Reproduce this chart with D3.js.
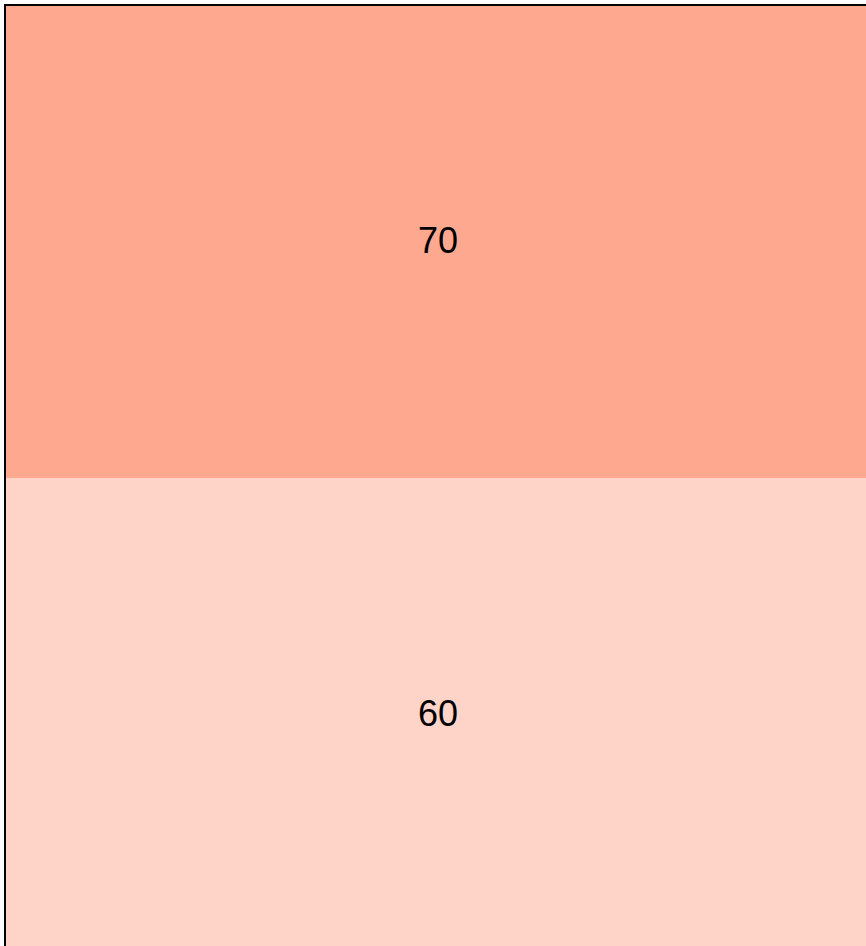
<!DOCTYPE html>
<html>
<head>
<meta charset="utf-8">
<script src="https://cdn.jsdelivr.net/npm/d3@7"></script>
<style>
  body { margin: 0; background: #fff; }
</style>
</head>
<body>
<script>
let labels = ["a", "b"];
let values = [70, 60];
let colors = ["#ffa890", "#ffd4c8"];

let svg = d3.select("body")
    .append("svg")
    .attr("width", 866)
    .attr("height", 946);

let y = d3.scaleBand()
    .domain(labels)
    .range([5, 5 + 2 * 473]);

let color = d3.scaleOrdinal()
    .domain(labels)
    .range(colors);

let cells = svg.selectAll("g.cell")
    .data(labels)
    .enter()
    .append("g")
    .attr("class", "cell");

cells.append("rect")
    .attr("x", 5)
    .attr("y", d => y(d))
    .attr("width", 866)
    .attr("height", y.bandwidth())
    .attr("fill", d => color(d));

cells.append("text")
    .attr("x", 5 + 866 / 2)
    .attr("y", d => y(d) + y.bandwidth() / 2 + 2)
    .attr("text-anchor", "middle")
    .attr("dominant-baseline", "middle")
    .attr("font-family", "Liberation Sans, Arial, sans-serif")
    .attr("font-size", 36)
    .attr("fill", "#000")
    .text((d, i) => values[i]);

// outer border
svg.append("rect")
    .attr("x", 5)
    .attr("y", 5)
    .attr("width", 866)
    .attr("height", 2 * 473)
    .attr("fill", "none")
    .attr("stroke", "#000")
    .attr("stroke-width", 2);
</script>
</body>
</html>
